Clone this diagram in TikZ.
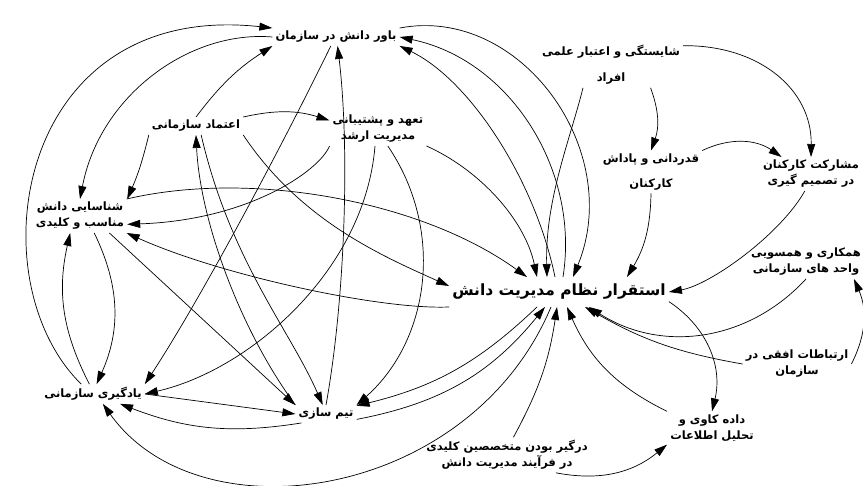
\documentclass[tikz,border=0pt]{standalone}
\usepackage{fontspec}
\newfontfamily\fafont[Script=Arabic,BoldFont={DejaVu Sans Bold}]{DejaVu Sans}
\TeXXeTstate=1
\usetikzlibrary{arrows.meta}
\newcommand\rtl[1]{\beginR #1\endR}
\tikzset{
  lbl/.style={font=\fafont\bfseries\fontsize{11.5}{16}\selectfont,align=center,inner sep=3pt},
  hub/.style={font=\fafont\bfseries\fontsize{15.5}{18}\selectfont,inner xsep=3pt,inner ysep=7pt},
  lnk/.style={-{Triangle[length=13pt,width=8pt]},line width=0.7pt},
}
\begin{document}
\begin{tikzpicture}[x=1pt,y=-1pt]
\useasboundingbox (0,0) rectangle (863,486);
% factors (pixel positions of the scanned chart)
\node[lbl] (belief) at (336,37) {\rtl{باور دانش در سازمان}};
\node[lbl] (merit) at (611,65) {\rtl{شایستگی و اعتبار علمی}\\[10pt]\rtl{افراد}};
\node[lbl] (trust) at (196,126) {\rtl{اعتماد سازمانی}};
\node[lbl] (support) at (378,129) {\rtl{تعهد و پشتیبانی}\\\rtl{مدیریت ارشد}};
\node[lbl] (reward) at (651,172) {\rtl{قدردانی و پاداش}\\[9pt]\rtl{کارکنان}};
\node[lbl] (partic) at (811,174) {\rtl{مشارکت کارکنان}\\\rtl{در تصمیم گیری}};
\node[lbl] (identify) at (80,216) {\rtl{شناسایی دانش}\\\rtl{مناسب و کلیدی}};
\node[hub] (kms) at (559,292) {\rtl{استقرار نظام مدیریت دانش}};
\node[lbl] (coop) at (806,262) {\rtl{همکاری و همسویی}\\\rtl{واحد های سازمانی}};
\node[lbl] (horiz) at (797,364) {\rtl{ارتباطات افقی در}\\\rtl{سازمان}};
\node[lbl] (learn) at (93,394) {\rtl{یادگیری سازمانی}};
\node[lbl] (team) at (326,414) {\rtl{تیم سازی}};
\node[lbl] (mining) at (712,428) {\rtl{داده کاوی و}\\\rtl{تحلیل اطلاعات}};
\node[lbl] (experts) at (507,455) {\rtl{درگیر بودن متخصصین کلیدی}\\\rtl{در فرآیند مدیریت دانش}};
% links around the top factor
\draw[lnk] (learn.140) .. controls (-25,280) and (15,0) .. (belief.north west);
\draw[lnk] (belief.west) .. controls (190,30) and (100,95) .. (identify.north);
\draw[lnk] (trust.north) to[bend left=10] (belief.south west);
\draw[lnk] (team.north) .. controls (345,300) and (350,150) .. (belief.-80);
\draw[lnk] (belief.north east) .. controls (520,5) and (625,150) .. ([xshift=14pt]kms.north);
\draw[lnk] ([xshift=4pt]kms.north) .. controls (580,170) and (510,60) .. (belief.east);
\draw[lnk] ([xshift=-4pt]kms.north) .. controls (535,180) and (470,80) .. (belief.south east);
\draw[lnk] (belief.-120) .. controls (280,150) and (200,300) .. (learn.north east);
% right hand side
\draw[lnk] ([xshift=-28pt]merit.south) .. controls (570,140) and (545,200) .. ([xshift=-12pt]kms.north);
\draw[lnk] (merit.330) to[bend left=20] (reward.north);
\draw[lnk] (merit.15) .. controls (760,45) and (812,90) .. (partic.north);
\draw[lnk] (reward.north east) to[bend left=30] (partic.150);
\draw[lnk] (reward.south) to[bend left=15] ([xshift=68pt]kms.north);
\draw[lnk] (partic.-110) .. controls (780,235) and (710,285) .. (kms.east);
\draw[lnk] (kms.-5) to[bend left=35] (mining.north);
\draw[lnk] (coop.south) to[bend left=40] ([xshift=30pt]kms.south);
\draw[lnk] (horiz.west) to[bend left=10] ([xshift=26pt]kms.south);
\draw[lnk] (horiz.east) to[bend right=25] ([xshift=48pt]coop.south);
\draw[lnk] (mining.north west) to[bend left=20] ([xshift=8pt]kms.south);
\draw[lnk] (experts.70) to[bend right=10] ([xshift=-2pt]kms.south);
\draw[lnk] (experts.-20) to[bend right=25] (mining.south west);
% bottom arc and team links
\draw[lnk] ([xshift=-8pt]kms.south) .. controls (470,500) and (200,540) .. (learn.-45);
\draw[lnk] (team.-10) to[bend right=20] ([xshift=-14pt]kms.south);
\draw[lnk] ([xshift=-22pt]kms.south) to[bend left=15] (team.15);
% organisational trust
\draw[lnk] (trust.north east) to[bend left=15] (support.170);
\draw[lnk] (trust.south west) to[bend left=5] (identify.north east);
\draw[lnk] (trust.south east) .. controls (300,220) and (380,255) .. ([yshift=6pt]kms.west);
\draw[lnk] (trust.-60) .. controls (230,260) and (290,330) .. (team.110);
\draw[lnk] (team.north west) .. controls (240,330) and (200,220) .. (trust.south);
% top management support
\draw[lnk] (support.south west) .. controls (320,170) and (250,220) .. (identify.-10);
\draw[lnk] (support.-100) .. controls (365,270) and (250,370) .. (learn.east);
\draw[lnk] (support.-60) .. controls (445,230) and (430,340) .. (team.north east);
\draw[lnk] (support.south east) .. controls (480,170) and (525,220) .. ([xshift=-22pt]kms.north);
% knowledge identification and learning
\draw[lnk] (identify.20) .. controls (250,170) and (420,200) .. ([xshift=-32pt]kms.north);
\draw[lnk] (kms.south west) .. controls (380,310) and (220,275) .. (identify.-20);
\draw[lnk] (identify.-50) to[bend left=25] (learn.70);
\draw[lnk] (learn.110) to[bend left=20] (identify.-120);
\draw[lnk] (identify.-30) -- (team.north west);
\draw[lnk] (learn.east) -- (team.west);
\draw[lnk] (team.200) to[bend left=15] (learn.-20);
\end{tikzpicture}
\end{document}
